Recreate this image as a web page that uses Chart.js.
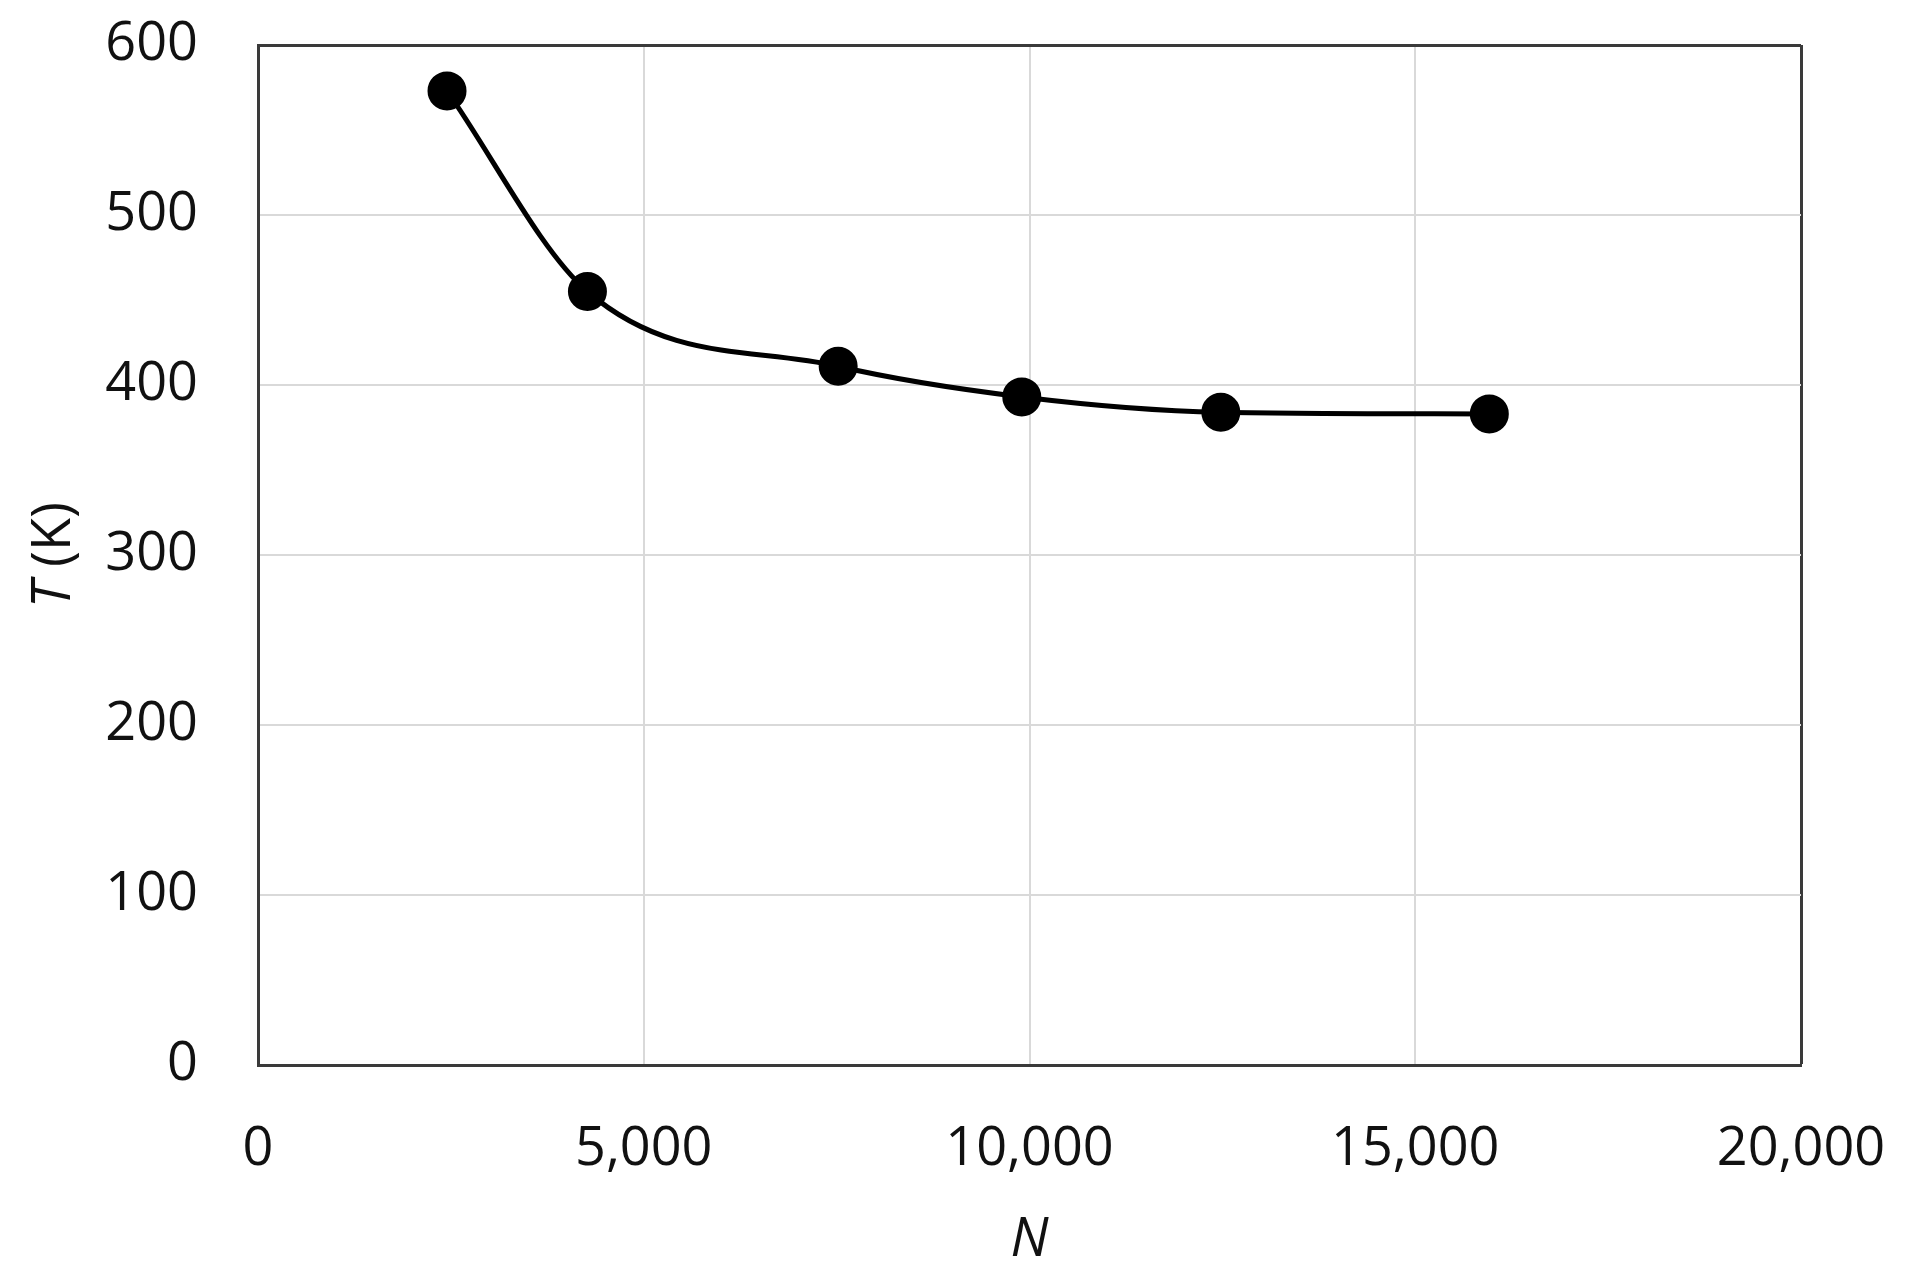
<!DOCTYPE html>
<html>
<head>
<meta charset="utf-8">
<script src="https://cdn.jsdelivr.net/npm/chart.js@4/dist/chart.umd.min.js"></script>
<style>
  html, body { margin: 0; padding: 0; background: #fff; }
  #wrap { width: 1911px; height: 1282px; }
</style>
</head>
<body>
<div id="wrap"><canvas id="chart" width="1911" height="1282"></canvas></div>
<script>
// values
const nValues = [2450, 4270, 7520, 9900, 12480, 15960]
const tValues = [573, 455, 411, 393, 384, 383]
const xTicks = [0, 5000, 10000, 15000, 20000]
const yTicks = [0, 100, 200, 300, 400, 500, 600]

const FONT = "'Open Sans', 'Noto Sans', sans-serif"
const frameColor = "#3a3a3a"
const gridColor = "#d9d9d9"

let points = nValues.map((n, i) => ({ x: n, y: tValues[i] }))

// axis titles with italic symbol + upright unit
const axisTitles = {
    id: "axisTitles",
    afterDraw(chart) {
        const ctx = chart.ctx
        const area = chart.chartArea
        ctx.save()
        ctx.fillStyle = "#111"
        ctx.textBaseline = "middle"

        // x title: N
        ctx.font = "italic 54px " + FONT
        ctx.textAlign = "center"
        ctx.fillText("N", (area.left + area.right) / 2, 1241)

        // y title: T (K)
        ctx.translate(55, (area.top + area.bottom) / 2)
        ctx.rotate(-Math.PI / 2)
        const partA = "T"
        const partB = " (K)"
        ctx.font = "italic 54px " + FONT
        const wA = ctx.measureText(partA).width
        ctx.font = "54px " + FONT
        const wB = ctx.measureText(partB).width
        let start = -(wA + wB) / 2
        ctx.textAlign = "left"
        ctx.font = "italic 54px " + FONT
        ctx.fillText(partA, start, 0)
        ctx.font = "54px " + FONT
        ctx.fillText(partB, start + wA, 0)
        ctx.restore()
    }
}

new Chart(document.getElementById("chart"), {
    type: "line",
    data: {
        datasets: [{
            label: "T",
            data: points,
            borderColor: "#000",
            backgroundColor: "#000",
            borderWidth: 5,
            cubicInterpolationMode: "monotone",
            pointRadius: 17,
            pointHoverRadius: 17,
            pointBackgroundColor: "#000",
            pointBorderColor: "#000"
        }]
    },
    options: {
        responsive: false,
        animation: false,
        events: [],
        layout: { padding: { top: 45, right: 110, left: 0, bottom: 0 } },
        plugins: {
            legend: { display: false },
            tooltip: { enabled: false }
        },
        scales: {
            x: {
                type: "linear",
                min: 0,
                max: 20000,
                afterBuildTicks: (scale) => { scale.ticks = xTicks.map(v => ({ value: v })) },
                afterFit: (scale) => {
                    scale.height = 1282 - 1065
                    scale.paddingLeft = 0
                    scale.paddingRight = 0
                },
                border: { display: true, color: frameColor, width: 3 },
                grid: {
                    drawTicks: false,
                    color: (c) => (c.tick && c.tick.value === 20000) ? frameColor : gridColor,
                    lineWidth: (c) => (c.tick && c.tick.value === 20000) ? 3 : 2
                },
                ticks: {
                    padding: 52,
                    color: "#111",
                    font: { family: FONT, size: 54 },
                    callback: (v) => v.toLocaleString("en-US")
                }
            },
            y: {
                type: "linear",
                min: 0,
                max: 600,
                afterBuildTicks: (scale) => { scale.ticks = yTicks.map(v => ({ value: v })) },
                afterFit: (scale) => {
                    scale.width = 258
                    scale.paddingTop = 0
                    scale.paddingBottom = 0
                },
                border: { display: true, color: frameColor, width: 3 },
                grid: {
                    drawTicks: false,
                    color: (c) => (c.tick && c.tick.value === 600) ? frameColor : gridColor,
                    lineWidth: (c) => (c.tick && c.tick.value === 600) ? 3 : 2
                },
                ticks: {
                    padding: 60,
                    color: "#111",
                    font: { family: FONT, size: 54 }
                }
            }
        }
    },
    plugins: [axisTitles]
});
</script>
</body>
</html>
